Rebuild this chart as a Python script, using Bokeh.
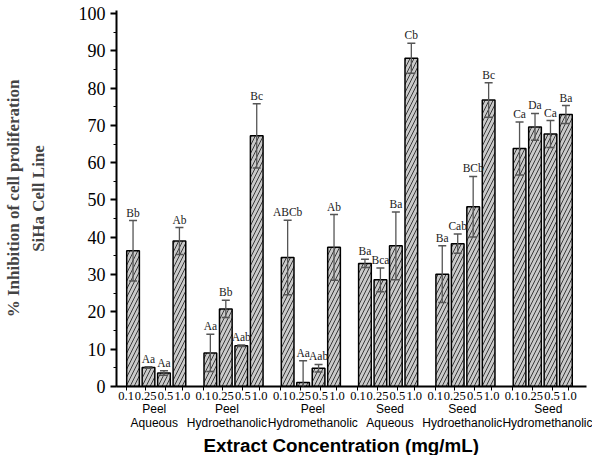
from bokeh.plotting import figure
from bokeh.models import (ColumnDataSource, Whisker, TeeHead, FixedTicker,
                          SingleIntervalTicker, LinearAxis, Range1d, Title)
from bokeh.core.properties import value
from bokeh.embed import file_html
from bokeh.resources import INLINE

# ---- data ----
group_line1 = ["Peel", "Peel", "Peel", "Seed", "Seed", "Seed"]
group_line2 = ["Aqueous", "Hydroethanolic", "Hydromethanolic",
               "Aqueous", "Hydroethanolic", "Hydromethanolic"]
concentrations = ["0.1", "0.25", "0.5", "1.0"]

peel_aqueous = [36.4, 5.1, 3.6, 39.0]
peel_hydroethanolic = [9.0, 20.8, 10.9, 67.2]
peel_hydromethanolic = [34.6, 1.1, 4.9, 37.3]
seed_aqueous = [33.0, 28.6, 37.7, 88.0]
seed_hydroethanolic = [30.1, 38.3, 48.2, 76.8]
seed_hydromethanolic = [63.8, 69.6, 67.7, 72.9]

peel_aqueous_err = [8.1, 0.2, 0.6, 3.6]
peel_hydroethanolic_err = [5.0, 2.3, 0.2, 8.6]
peel_hydromethanolic_err = [10.0, 5.8, 1.0, 8.8]
seed_aqueous_err = [1.1, 3.2, 9.1, 4.0]
seed_hydroethanolic_err = [7.6, 2.6, 8.1, 4.6]
seed_hydromethanolic_err = [7.1, 3.6, 3.6, 2.4]

peel_aqueous_sig = ["Bb", "Aa", "Aa", "Ab"]
peel_hydroethanolic_sig = ["Aa", "Bb", "Aab", "Bc"]
peel_hydromethanolic_sig = ["ABCb", "Aa", "Aab", "Ab"]
seed_aqueous_sig = ["Ba", "Bca", "Ba", "Cb"]
seed_hydroethanolic_sig = ["Ba", "Cab", "BCb", "Bc"]
seed_hydromethanolic_sig = ["Ca", "Da", "Ca", "Ba"]

means = [peel_aqueous, peel_hydroethanolic, peel_hydromethanolic,
         seed_aqueous, seed_hydroethanolic, seed_hydromethanolic]
errs = [peel_aqueous_err, peel_hydroethanolic_err, peel_hydromethanolic_err,
        seed_aqueous_err, seed_hydroethanolic_err, seed_hydromethanolic_err]
sigs = [peel_aqueous_sig, peel_hydroethanolic_sig, peel_hydromethanolic_sig,
        seed_aqueous_sig, seed_hydroethanolic_sig, seed_hydromethanolic_sig]

# ---- layout positions (slot units) ----
label_shift = [-0.45, -0.19, 0.1, 0.19]
xs, ys, es, ss = [], [], [], []
tick_pos, tick_lab = [], []
for g in range(6):
    for i in range(4):
        xs.append(g * 5 + i)
        ys.append(means[g][i])
        es.append(errs[g][i])
        ss.append(sigs[g][i])
        tick_pos.append(round(g * 5 + i + label_shift[i], 3))
        tick_lab.append(concentrations[i])
upper = [y + e for y, e in zip(ys, es)]
lower = [y - e for y, e in zip(ys, es)]
src = ColumnDataSource(dict(x=xs, y=ys, upper=upper, lower=lower, sig=ss))

group_label_pos = [1.37, 6.07, 11.63, 16.62, 21.30, 26.86]

p = figure(width=592, height=455, output_backend="svg", toolbar_location=None,
           x_range=Range1d(-1.07, 29.33), y_range=Range1d(0, 100.8),
           min_border_left=105, min_border_right=6, min_border_top=10,
           min_border_bottom=0)
p.outline_line_color = None
p.xgrid.visible = False
p.ygrid.visible = False

p.vbar(x="x", top="y", width=0.82, bottom=0, source=src,
       fill_color="#c9c9c9", line_color="black", line_width=1.5,
       hatch_pattern="/", hatch_color="#3a3a3a", hatch_scale=8, hatch_weight=1)

wh = Whisker(base="x", upper="upper", lower="lower", source=src,
             line_color="#555555", line_width=1.3, level="overlay",
             upper_head=TeeHead(size=8, line_color="#555555", line_width=1.5),
             lower_head=TeeHead(size=8, line_color="#555555", line_width=1.5))
p.add_layout(wh)

p.text(x="x", y="upper", text="sig", source=src, text_align="center",
       text_baseline="bottom", y_offset=-2, text_font=value("Liberation Serif"),
       text_font_size="11.5px", text_color="#1a1a1a")

# y axis
ya = p.yaxis[0]
ya.ticker = SingleIntervalTicker(interval=10, num_minor_ticks=2)
ya.axis_line_width = 2
ya.major_tick_line_width = 2
ya.major_tick_out = 6
ya.major_tick_in = 0
ya.minor_tick_out = 3
ya.minor_tick_in = 0
ya.major_label_text_font = "Liberation Serif"
ya.major_label_text_font_size = "18px"
ya.major_label_text_color = "black"
ya.axis_label = "% Inhibition of cell proliferation\nSiHa Cell Line"
ya.axis_label_text_font = "Liberation Serif"
ya.axis_label_text_font_style = "bold"
ya.axis_label_text_font_size = "17px"
ya.axis_label_text_line_height = 1.3
ya.axis_label_standoff = 28

# x axis: concentrations
xa = p.xaxis[0]
xa.ticker = FixedTicker(ticks=tick_pos)
xa.major_label_overrides = {x: l for x, l in zip(tick_pos, tick_lab)}
xa.axis_line_width = 2
xa.major_tick_out = 4
xa.major_tick_in = 0
xa.minor_tick_line_color = None
xa.major_label_standoff = 1
xa.major_label_text_font = "Liberation Serif"
xa.major_label_text_font_size = "12.5px"
xa.major_label_text_color = "black"

def group_axis(labels, standoff):
    ax = LinearAxis(ticker=FixedTicker(ticks=group_label_pos),
                    major_label_overrides={x: l for x, l in zip(group_label_pos, labels)})
    ax.axis_line_color = None
    ax.major_tick_line_color = None
    ax.minor_tick_line_color = None
    ax.major_tick_out = 0
    ax.major_tick_in = 0
    ax.major_label_standoff = standoff
    ax.major_label_text_font = "Liberation Sans"
    ax.major_label_text_font_size = "12px"
    ax.major_label_text_color = "black"
    return ax

p.add_layout(group_axis(group_line1, -1), "below")
p.add_layout(group_axis(group_line2, -3), "below")

title = Title(text="Extract Concentration (mg/mL)", align="left",
              text_font="Liberation Sans", text_font_style="bold",
              text_font_size="18.8px", text_color="black",
              standoff=0, offset=87, vertical_align="bottom")
p.add_layout(title, "below")

open("out.html", "w").write(file_html(p, INLINE))
